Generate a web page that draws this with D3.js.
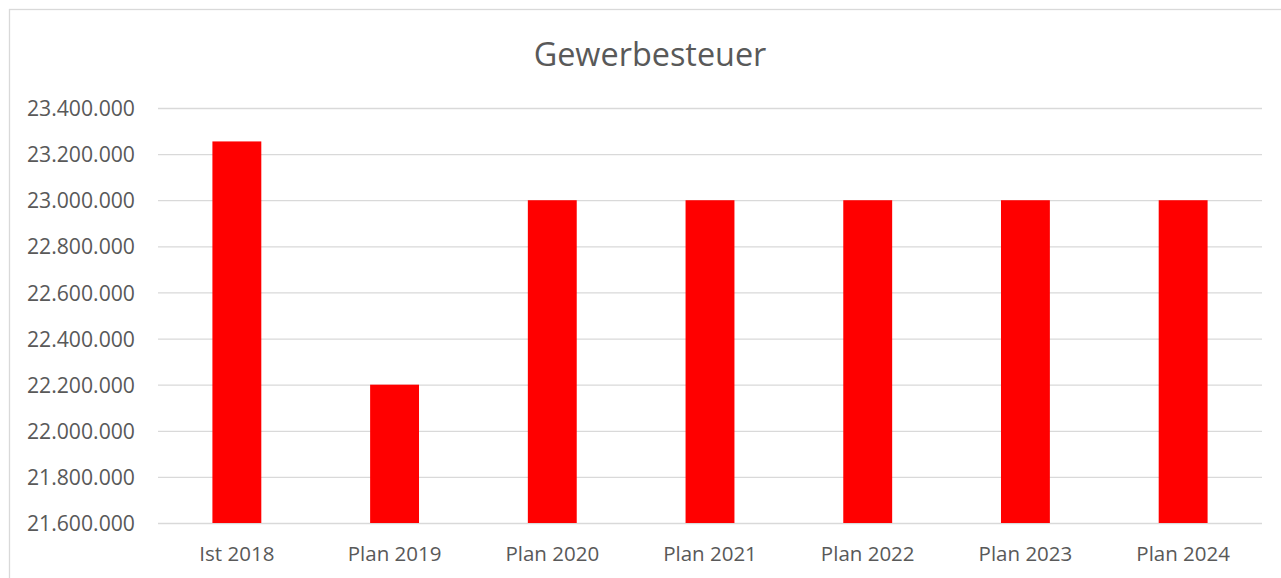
<!DOCTYPE html>
<html><head><meta charset="utf-8">
<script src="https://cdn.jsdelivr.net/npm/d3@7"></script>
<style>body{margin:0;background:#fff;}svg{display:block;}</style>
</head><body>
<script>
const categories = ["Ist 2018","Plan 2019","Plan 2020","Plan 2021","Plan 2022","Plan 2023","Plan 2024"];
const values = [23255000, 22200000, 23000000, 23000000, 23000000, 23000000, 23000000];
const yTicks = [21600000,21800000,22000000,22200000,22400000,22600000,22800000,23000000,23200000,23400000];
const title = "Gewerbesteuer";

const W = 1281, H = 578;
const svg = d3.select("body").append("svg").attr("width", W).attr("height", H);
svg.append("rect").attr("x", 9.5).attr("y", 9.5).attr("width", 1300).attr("height", 600)
  .attr("fill", "#fff").attr("stroke", "#d9d9d9").attr("stroke-width", 1.3);

const font = "'Open Sans', 'Noto Sans', sans-serif";
const y = d3.scaleLinear().domain([21600000, 23400000]).range([523, 108]);
const x = d3.scaleBand().domain(categories).range([158, 1262]).paddingInner(0.69).paddingOuter(0.345);
const loc = d3.formatLocale({decimal: ",", thousands: ".", grouping: [3], currency: ["", "€"]});
const fmt = loc.format(",.0f");

const yAxis = d3.axisLeft(y).tickValues(yTicks).tickFormat(fmt).tickSize(-(1262 - 158)).tickPadding(23);
const gy = svg.append("g").attr("transform", "translate(158,0)").call(yAxis);
gy.select(".domain").remove();
gy.selectAll(".tick line").attr("stroke", "#d9d9d9").attr("stroke-width", 1.3);
gy.selectAll(".tick text").attr("fill", "#595959").attr("font-family", font).attr("font-size", "21.2px").attr("dy", "0.36em");

svg.append("g").selectAll("rect").data(categories).join("rect")
  .attr("x", d => x(d)).attr("width", x.bandwidth())
  .attr("y", (d, i) => y(values[i])).attr("height", (d, i) => y(21600000) - y(values[i]))
  .attr("fill", "#ff0000");

const xAxis = d3.axisBottom(x).tickSize(0).tickPadding(0);
const gx = svg.append("g").attr("transform", "translate(0,523)").call(xAxis);
gx.select(".domain").remove();
gx.selectAll(".tick text").attr("fill", "#595959").attr("font-family", font).attr("font-size", "20.5px").attr("dy", "0").attr("y", 38);

svg.append("text").attr("x", 650).attr("y", 66).attr("text-anchor", "middle")
  .attr("fill", "#595959").attr("font-family", font).attr("font-size", "32.4px").attr("font-weight", 400).text(title);
</script>
</body></html>
